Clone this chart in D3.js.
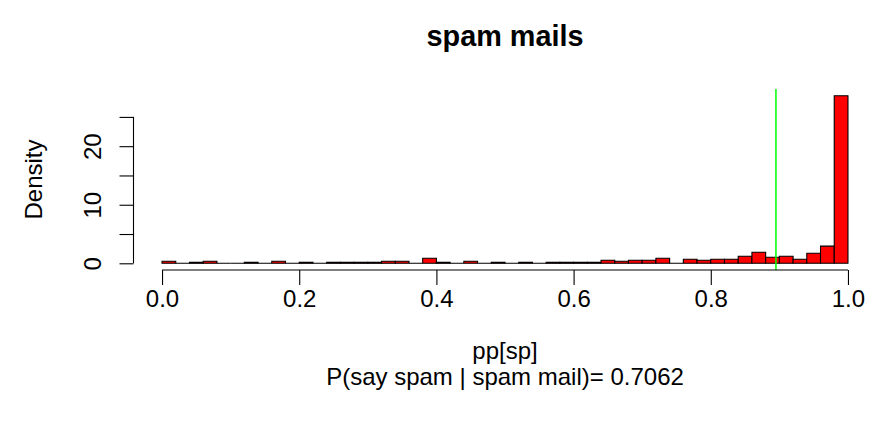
<!DOCTYPE html>
<html>
<head>
<meta charset="utf-8">
<script src="https://cdn.jsdelivr.net/npm/d3@7"></script>
<style>
  html, body { margin: 0; padding: 0; background: #fff; }
  svg { display: block; font-family: "Liberation Sans", Arial, Helvetica, sans-serif; }
</style>
</head>
<body>
<svg id="chart" width="870" height="427"></svg>
<script>
// Histogram of predicted spam probabilities pp[sp] for the spam mails, 50 bins of width 0.02
const binWidth = 0.02;
const binStarts = d3.range(50).map(i => +(i * binWidth).toFixed(2));
const binCounts = [
  2, 0, 1, 2, 0, 0, 1, 0, 2, 0,
  1, 0, 1, 1, 1, 1, 2, 2, 0, 5,
  1, 0, 2, 0, 1, 0, 1, 0, 1, 1,
  1, 1, 3, 2, 3, 3, 5, 0, 4, 3,
  4, 4, 7, 11, 6, 7, 4, 10, 17, 166
];
const threshold = 0.895;          // decision cut-off (green line)
const xTicks = [0.0, 0.2, 0.4, 0.6, 0.8, 1.0];
const yTicks = [0, 5, 10, 15, 20, 25];
const yTickLabels = [0, 10, 20];
const titleText = "spam mails";
const xLabel = "pp[sp]";
const subLabel = "P(say spam | spam mail)= 0.7062";
const yLabel = "Density";

const total = d3.sum(binCounts);
const bins = binStarts.map((x0, i) => ({
  x0, x1: x0 + binWidth,
  density: binCounts[i] / (total * binWidth)
}));

const svg = d3.select("#chart");
const fontSize = 24;

// plot region with R-style 4% padding on each axis
const ymax = d3.max(bins, d => d.density);
const x = d3.scaleLinear().domain([-0.04, 1.04]).range([134.6, 875.4]);
const y = d3.scaleLinear().domain([-0.04 * ymax, ymax * 1.04]).range([270, 89]);

// bars as closed paths so that empty bins still show their outline on the baseline
svg.append("g")
  .selectAll("path")
  .data(bins)
  .join("path")
  .attr("d", d => {
    const p = d3.path();
    p.moveTo(x(d.x0), y(0));
    p.lineTo(x(d.x0), y(d.density));
    p.lineTo(x(d.x1), y(d.density));
    p.lineTo(x(d.x1), y(0));
    p.closePath();
    return p.toString();
  })
  .attr("fill", "#ff0000")
  .attr("stroke", "#000")
  .attr("stroke-width", 1.1);

// threshold line spanning the plot region
svg.append("line")
  .attr("x1", x(threshold)).attr("x2", x(threshold))
  .attr("y1", y.range()[1]).attr("y2", y.range()[0])
  .attr("stroke", "#00ff00")
  .attr("stroke-width", 1.5);

// x axis
const xAxis = d3.axisBottom(x).tickValues(xTicks).tickSize(15).tickPadding(5)
  .tickFormat(d3.format(".1f"));
const gx = svg.append("g").attr("transform", "translate(0,270)").call(xAxis);
gx.select(".domain").attr("d", `M${x(0)},0H${x(1)}`).attr("stroke-width", 1.1);
gx.selectAll(".tick line").attr("stroke-width", 1.1);
gx.selectAll("text").attr("font-size", fontSize).attr("font-family", "Liberation Sans, Arial, sans-serif")
  .attr("fill", "#000").attr("dy", "0.71em");

// y axis
const yAxis = d3.axisLeft(y).tickValues(yTicks).tickSize(14)
  .tickFormat(d => yTickLabels.includes(d) ? d : "");
const gy = svg.append("g").attr("transform", "translate(133.5,0)").call(yAxis);
gy.select(".domain").attr("d", `M0,${y(0)}V${y(25)}`).attr("stroke-width", 1.1);
gy.selectAll(".tick line").attr("stroke-width", 1.1);
gy.selectAll("text")
  .attr("font-size", fontSize).attr("font-family", "Liberation Sans, Arial, sans-serif")
  .attr("fill", "#000")
  .attr("x", null).attr("dy", null)
  .attr("text-anchor", "middle")
  .attr("transform", "translate(-33,0) rotate(-90)");

// titles
const cx = (x.range()[0] + x.range()[1]) / 2;
svg.append("text").attr("x", cx).attr("y", 46)
  .attr("text-anchor", "middle").attr("font-size", 28.8).attr("font-weight", "bold")
  .text(titleText);
svg.append("text").attr("x", cx).attr("y", 359)
  .attr("text-anchor", "middle").attr("font-size", fontSize).text(xLabel);
svg.append("text").attr("x", cx).attr("y", 385)
  .attr("text-anchor", "middle").attr("font-size", fontSize).text(subLabel);
svg.append("text")
  .attr("transform", `translate(42,${(y.range()[0] + y.range()[1]) / 2}) rotate(-90)`)
  .attr("text-anchor", "middle").attr("font-size", fontSize).text(yLabel);
</script>
</body>
</html>
